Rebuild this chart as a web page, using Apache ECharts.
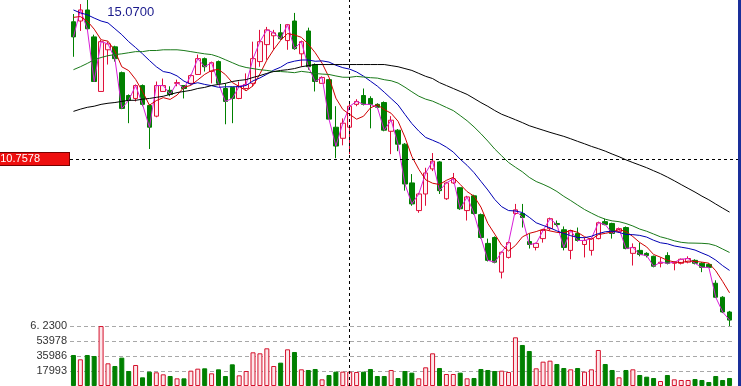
<!DOCTYPE html>
<html><head><meta charset="utf-8">
<script src="https://cdn.jsdelivr.net/npm/echarts@6/dist/echarts.min.js"></script>
<style>html,body{margin:0;padding:0;background:#fff;overflow:hidden}#c{width:741px;height:386px}</style>
</head><body><div id="c"></div><script>
const opens = [14.48,14.50,14.80,14.07,12.59,13.72,13.80,13.10,12.48,12.40,
12.75,12.21,11.92,12.59,12.62,12.81,12.75,12.81,13.05,13.48,
13.13,13.40,12.67,12.70,12.40,12.67,12.81,13.40,13.86,14.10,
14.18,13.97,14.50,13.61,14.23,13.32,12.81,12.91,11.62,11.32,
11.62,12.24,12.48,12.40,12.24,12.29,11.51,11.54,11.16,10.11,
9.36,9.81,10.49,10.68,9.68,10.11,9.98,9.36,9.76,9.25,
8.47,8.63,7.69,8.09,9.28,9.28,8.52,8.36,8.60,8.87,
9.01,8.84,8.28,8.74,8.44,8.28,8.60,9.06,9.01,8.79,
8.90,8.20,8.28,8.20,8.12,7.93,8.14,7.93,7.93,7.96,
8.01,7.93,7.90,7.39,7.01,6.61];
const closes = [14.07,14.80,14.29,12.86,13.94,13.88,13.48,12.13,12.35,12.75,
12.24,11.62,12.75,12.75,12.51,12.83,12.67,13.02,13.48,13.26,
13.37,12.81,12.32,12.40,12.73,12.78,13.48,13.94,14.26,14.18,
14.02,14.40,13.75,13.94,13.26,12.86,12.97,11.84,11.11,11.73,
12.19,12.32,12.24,12.24,12.16,11.54,11.81,11.16,10.08,9.54,
9.81,10.38,10.70,9.90,10.11,10.22,9.41,9.73,9.28,8.63,
8.01,7.96,8.23,8.49,9.38,9.17,8.44,8.47,8.82,9.14,
8.98,8.36,8.82,8.55,8.55,8.60,9.03,8.98,8.74,8.87,
8.33,8.36,8.17,8.14,7.85,7.96,7.93,7.96,8.04,8.06,
7.93,7.82,7.82,7.01,6.61,6.39];
const lows = [13.53,14.23,14.26,12.86,12.59,13.32,13.40,12.11,11.73,12.32,
12.19,11.03,11.89,12.59,12.46,12.73,12.40,12.78,13.05,13.13,
12.81,12.81,11.70,11.73,12.38,12.64,12.73,13.26,13.45,13.72,
13.99,13.72,13.72,13.26,13.18,12.59,12.81,11.84,10.78,11.13,
10.89,12.19,12.21,11.59,12.13,11.51,10.89,10.97,9.90,9.49,
9.30,9.49,10.43,9.81,9.65,10.08,9.38,9.09,9.25,8.60,
7.98,7.93,7.52,8.06,9.25,8.90,8.33,8.28,8.49,8.82,
8.93,8.28,8.04,8.52,8.09,8.14,8.58,8.96,8.60,8.76,
8.31,7.87,8.12,8.09,7.82,7.82,7.90,7.74,7.90,7.93,
7.90,7.69,7.80,6.99,6.58,6.23];
const highs = [14.69,14.96,15.07,14.13,13.99,13.94,13.83,13.13,12.51,12.78,
12.78,12.24,12.86,12.94,12.73,12.91,12.75,13.05,13.59,13.51,
13.40,13.43,12.81,12.70,12.86,13.08,13.94,14.26,14.34,14.26,
14.42,14.42,14.72,13.97,14.32,13.35,13.00,12.91,12.19,11.86,
12.32,12.38,12.67,12.46,12.27,12.32,11.92,11.57,11.19,10.35,
9.84,10.52,10.92,10.70,10.14,10.38,10.00,9.76,9.79,9.28,
8.60,8.66,8.25,8.52,9.54,9.54,8.74,8.49,8.84,9.17,
9.09,8.93,8.84,8.90,8.63,8.63,9.06,9.14,9.03,8.90,
8.93,8.47,8.49,8.23,8.14,8.09,8.23,7.98,8.06,8.12,
8.04,7.96,7.93,7.47,7.04,6.64];
const volumes = [37200,32000,37200,36000,71900,27200,24000,34000,18000,25200,
10400,17200,16400,14000,12000,9200,9200,18400,20800,21200,
15200,20000,12000,26000,12800,18000,40400,39200,45200,24000,
28000,44000,40800,20000,19200,20400,8000,13200,17200,17200,
17200,16800,17200,20400,12000,12000,19200,9600,18000,16000,
9200,22400,39200,21600,14400,14400,16000,9200,9600,20400,
19200,18000,18400,16800,58400,49200,42000,21200,29200,30400,
26400,21600,20000,21600,17200,20000,43200,26400,19200,10400,
19200,20000,13200,11200,9600,6000,13200,8000,7200,7200,
8400,7200,4800,12000,7200,9600];
const ma5Head = [14.60,14.62,14.50,14.28];
const ma15Head = [14.80,14.72,14.67,14.58,14.50,14.45,14.29,14.13,13.94,13.78,13.61,13.43,13.26,13.13];
const ma30Head = [13.18,13.26,13.35,13.45,13.51,13.56,13.59,13.61,13.64,13.67,13.67,13.70,13.70,13.72,13.72,
13.72,13.70,13.67,13.64,13.61,13.59,13.53,13.45,13.37,13.29,13.24,13.21,13.18,13.16];
const ma60Head = [12.05,12.11,12.16,12.19,12.24,12.27,12.29,12.32,12.35,12.35,
12.38,12.40,12.43,12.46,12.51,12.56,12.59,12.62,12.67,12.70,
12.75,12.78,12.81,12.86,12.89,12.91,12.97,13.02,13.08,13.13,
13.16,13.18,13.21,13.26,13.29,13.32,13.32,13.32,13.32,13.32,
13.32,13.32,13.32,13.32,13.32,13.32,13.29,13.26,13.21,13.16,
13.08,13.00,12.94,12.83,12.75,12.67,12.59,12.51,12.40];
const priceMinLabel = '6. 2300';
const priceMin = 6.23, priceMax = 15.07;
const volTickLabels = ['17993','35986','53978'];
const volStep = 17993, volMax = 71972;
const crossPrice = 10.7578, crossLabel = '10.7578', crossIndex = 40;
const maxLabel = '15.0700';

const cats = closes.map((_, i) => String(i));
function ma(period, head) {
  return closes.map((c, i) => {
    if (i < head.length) return head[i];
    let s = 0; for (let k = i - period + 1; k <= i; k++) s += closes[k];
    return +(s / period).toFixed(3);
  });
}
const kData = closes.map((c, i) => [opens[i], c, lows[i], highs[i]]);
const upRed = '#e0103a', upFill = '#fff3f5', downGreen = '#008000';
const volData = volumes.map((v, i) => ({
  value: v,
  itemStyle: closes[i] >= opens[i]
    ? { color: '#fde6ea', borderColor: '#d4102a', borderWidth: 1 }
    : { color: downGreen, borderColor: downGreen, borderWidth: 1 }
}));
const font = 'Liberation Sans, Arial, sans-serif';
const lineS = (name, data, color) => ({
  name, type: 'line', data, xAxisIndex: 0, yAxisIndex: 0, symbol: 'none', showSymbol: false,
  lineStyle: { color, width: 1 }, animation: false, silent: true, z: 3
});
const hidden = { axisLine: { show: false }, axisTick: { show: false }, axisLabel: { show: false }, splitLine: { show: false } };
const chart = echarts.init(document.getElementById('c'), null, { renderer: 'canvas' });
chart.setOption({
  animation: false,
  backgroundColor: '#fff',
  textStyle: { fontFamily: font },
  grid: [
    { left: 70, width: 663, top: -2, height: 328 },
    { left: 70, width: 663, top: 326, height: 60 },
    { left: 70, right: 0, top: -2, height: 328 }
  ],
  xAxis: [
    Object.assign({ type: 'category', data: cats, gridIndex: 0, boundaryGap: true }, hidden),
    Object.assign({ type: 'category', data: cats, gridIndex: 1, boundaryGap: true }, hidden),
    Object.assign({ type: 'value', gridIndex: 2, min: 0, max: 1 }, hidden)
  ],
  yAxis: [
    { type: 'value', gridIndex: 0, min: priceMin, max: priceMax, axisLine: { show: false }, axisTick: { show: false }, splitLine: { show: false },
      axisLabel: { showMinLabel: true, showMaxLabel: false, margin: 3, color: '#333', fontSize: 11, fontFamily: font,
        formatter: v => Math.abs(v - priceMin) < 1e-6 ? priceMinLabel : '' } },
    { type: 'value', gridIndex: 1, min: 0, max: volMax, interval: volStep, axisLine: { show: false }, axisTick: { show: false },
      splitLine: { show: true, lineStyle: { color: '#a8a8a8', type: [4, 3], width: 1 } },
      axisLabel: { margin: 3, color: '#333', fontSize: 11, fontFamily: font,
        formatter: v => volTickLabels[Math.round(v / volStep) - 1] || '' } },
    Object.assign({ type: 'value', gridIndex: 2, min: priceMin, max: priceMax }, hidden)
  ],
  series: [
    { type: 'candlestick', data: kData, xAxisIndex: 0, yAxisIndex: 0, barWidth: 5, z: 2,
      itemStyle: { color: upFill, color0: downGreen, borderColor: upRed, borderColor0: downGreen, borderWidth: 1 },
      markLine: { symbol: 'none', silent: true, animation: false,
        lineStyle: { color: '#000', type: [3, 3], width: 1 },
        data: [ { xAxis: crossIndex, label: { show: false } } ] },
      markPoint: { silent: true, animation: false, symbol: 'circle', symbolSize: 0,
        data: [{ type: 'max', valueDim: 'highest',
          label: { show: true, position: 'right', distance: 0, offset: [20, 12], formatter: maxLabel, color: '#1a1a8c', fontSize: 13, fontFamily: font } }] }
    },
    lineS('close', closes, '#d81ed8'),
    lineS('MA5', ma(5, ma5Head), '#d00000'),
    lineS('MA15', ma(15, ma15Head), '#0000b4'),
    lineS('MA30', ma(30, ma30Head), '#1a7a1a'),
    lineS('MA60', ma(60, ma60Head), '#000000'),
    { type: 'bar', data: volData, xAxisIndex: 1, yAxisIndex: 1, barWidth: 5, animation: false, silent: true,
      markLine: { symbol: 'none', silent: true, animation: false, lineStyle: { color: '#000', type: [3, 3], width: 1 },
        data: [{ xAxis: crossIndex, label: { show: false } }] } },
    { type: 'line', data: [], xAxisIndex: 2, yAxisIndex: 2, silent: true, animation: false,
      markLine: { symbol: 'none', silent: true, animation: false,
        lineStyle: { color: '#000', type: [3, 3], width: 1 },
        data: [ { yAxis: crossPrice, label: { show: true, position: 'start', distance: 1, formatter: crossLabel, color: '#fff', fontSize: 11, fontFamily: font,
            backgroundColor: '#ee0f0f', borderColor: '#700', borderWidth: 1, padding: [1, 29, 0, 1] } } ] } }
  ],
  graphic: [
    { type: 'rect', right: 0, top: 0, shape: { width: 3, height: 386 }, style: { fill: '#1a2f9a' }, silent: true, z: 10 }
  ]
});
</script></body></html>
